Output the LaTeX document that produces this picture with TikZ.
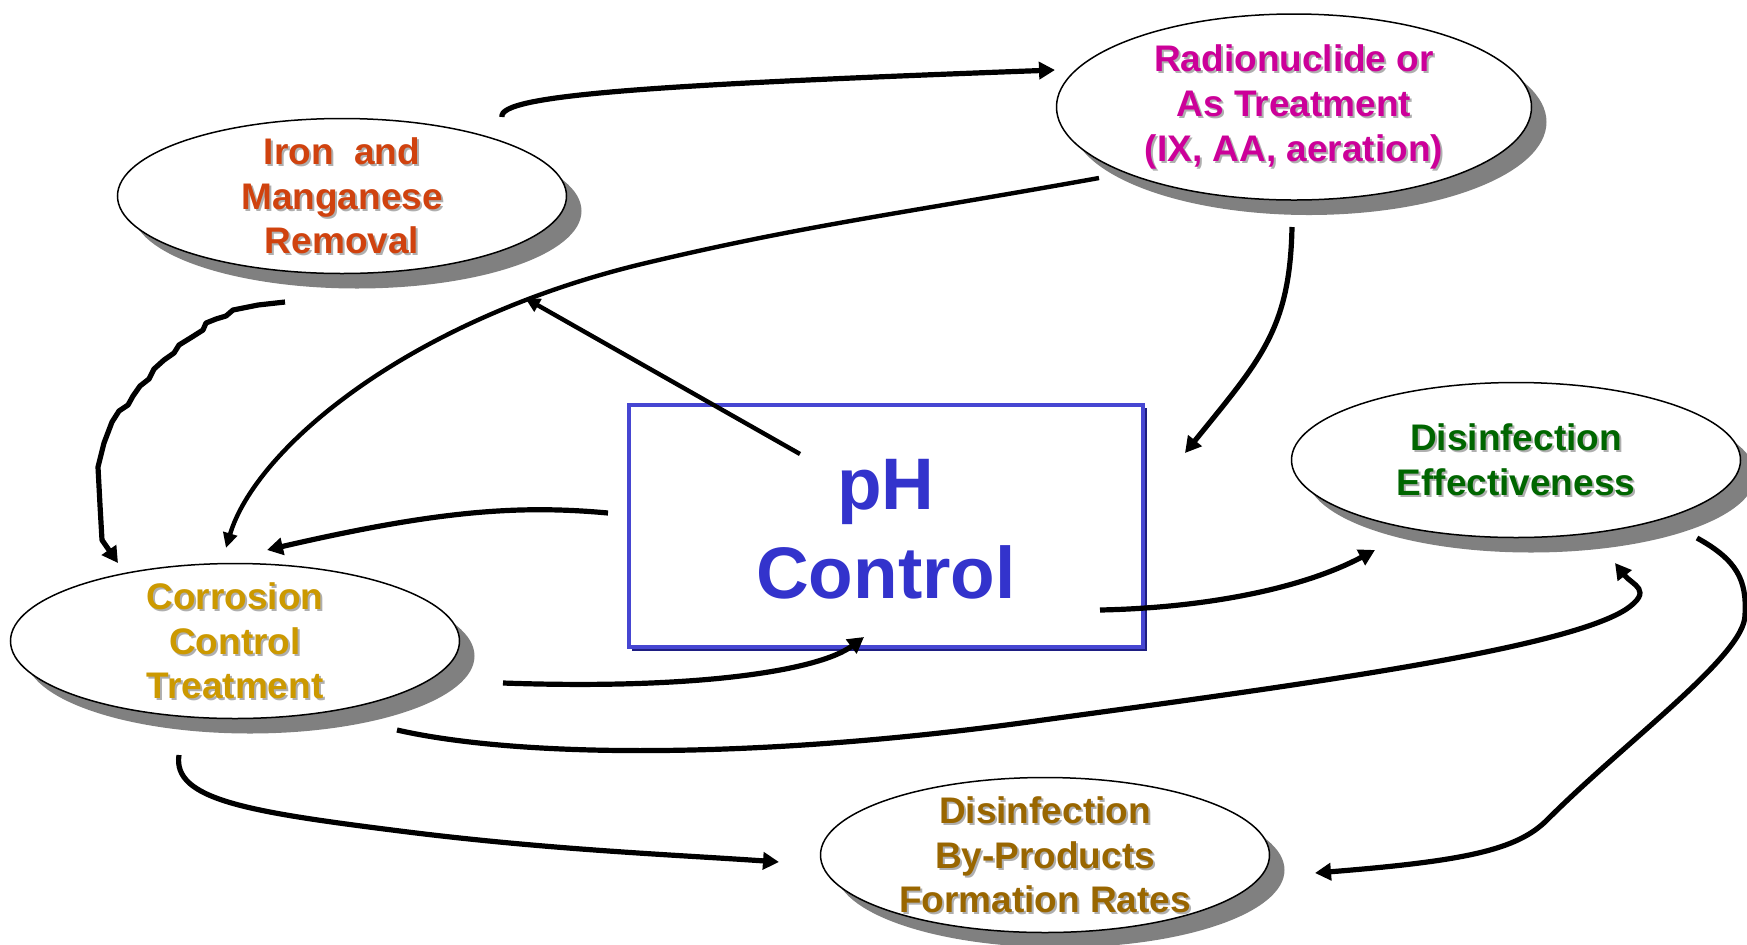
\documentclass[tikz,border=0pt]{standalone}
\usepackage{fontspec}
\setmainfont{Liberation Sans}
\usetikzlibrary{shapes.geometric,shadows,arrows.meta}

\definecolor{ironc}{RGB}{208,66,14}
\definecolor{radioc}{RGB}{204,0,153}
\definecolor{effc}{RGB}{0,102,0}
\definecolor{dbpc}{RGB}{153,102,0}
\definecolor{corrc}{RGB}{204,153,0}
\definecolor{phc}{RGB}{51,51,204}
\definecolor{phframe}{RGB}{70,70,210}
\definecolor{phdark}{RGB}{30,30,130}
\definecolor{shadowgray}{RGB}{128,128,128}
\definecolor{textshade}{RGB}{175,175,175}

% text with a faint grey copy set just below and to the right
\newcommand\shadedlabel[4]{%
  \node[#4, text=textshade] (#1-s) at ([shift={(2,2)}]#1.center) {#3};
  \node[#4, text=#2] (#1-t) at (#1.center) {#3};}

\begin{document}
\begin{tikzpicture}[x=0.5pt,y=-0.5pt,
  oval/.style={ellipse, draw=black, line width=0.75pt, fill=white, inner sep=0pt,
    minimum width=224.5pt, minimum height=77.5pt,
    drop shadow={shadow xshift=7.5pt, shadow yshift=-7.5pt, fill=shadowgray, opacity=1}},
  lbl/.style={align=center, inner sep=0pt, font={\fontsize{18.5}{22.3}\selectfont\bfseries}},
  biglbl/.style={align=center, inner sep=0pt, font={\fontsize{36.5}{44.5}\selectfont\bfseries}},
  phbox/.style={rectangle, draw=phframe, line width=1.7pt, fill=white, inner sep=0pt,
    minimum width=257pt, minimum height=121pt},
  conn/.style={line width=2.6pt, -{Triangle[length=8pt,width=8.5pt]}},
  mid/.style={line width=2.2pt, -{Triangle[length=7.5pt,width=7pt]}},
]
\fill[white] (0,0) rectangle (1747,944);
\useasboundingbox (0,0) rectangle (1747,944);

% ---- boxes ----
\node[oval] (iron) at (342,196) {};
\node[oval, minimum width=237.5pt, minimum height=93pt] (radio) at (1294,107) {};
\node[oval] (diseff) at (1516,460) {};
\node[oval] (dbp) at (1045,855) {};
\node[oval] (corr) at (235,641) {};

\draw[phdark, line width=1.4pt]
  (1143+2.5,405+3) -- (1143+2.5,647+2.5) -- (629+3,647+2.5);
\node[phbox] (ph) at (886,526) {};

\shadedlabel{iron}{ironc}{Iron\ \ and\\Manganese\\Removal}{lbl}
\shadedlabel{radio}{radioc}{Radionuclide or\\As Treatment\\(IX, AA, aeration)}{lbl}
\shadedlabel{diseff}{effc}{Disinfection\\Effectiveness}{lbl}
\shadedlabel{dbp}{dbpc}{Disinfection\\By-Products\\Formation Rates}{lbl}
\shadedlabel{corr}{corrc}{Corrosion\\Control\\Treatment}{lbl}
\node[biglbl, text=phc] (ph-t) at ([yshift=-1.5pt]ph.center) {pH\\Control};

% ---- connectors ----
% Iron and Manganese -> Radionuclide
\draw[conn] ([shift={(160,-79)}]iron.center)
  .. controls +(-4,-22) and +(-405,15) .. ([shift={(-239,-37)}]radio.center);

% Radionuclide -> Corrosion Control
\draw[mid] ([shift={(-195,71)}]radio.center)
  .. controls +(-200,36) and +(160,-38) .. ++(-453,85)
  .. controls +(-240,57) and +(29,-98) .. ([shift={(-9,-93)}]corr.center);

% Radionuclide -> pH
\draw[conn] ([shift={(-2,120)}]radio.center)
  .. controls +(-2,103) and +(75,-93) .. ([shift={(299,-73)}]ph.center);

% pH -> Iron and Manganese
\draw[mid] ([shift={(-86,-72)}]ph.center) -- ([shift={(183,102)}]iron.center);

% pH -> Corrosion Control
\draw[conn] ([shift={(-278,-13)}]ph.center)
  .. controls +(-88,-8) and +(173,-40) .. ([shift={(32,-91)}]corr.center);

% Iron and Manganese -> Corrosion Control (hand-drawn)
\draw[conn, line join=round] ([shift={(-57,106)}]iron.center)
  -- ++(-27,3) -- ++(-25,5) -- ++(-7,6) -- ++(-10,3) -- ++(-10,4)
  -- ++(-3,7) -- ++(-11,7) -- ++(-13,8) -- ++(-5,8) -- ++(-10,7)
  -- ++(-10,9) -- ++(-5,10) -- ++(-9,7) -- ++(-7,10) -- ++(-5,9)
  -- ++(-9,6) -- ++(-7,11) -- ++(-8,21) -- ++(-6,24) -- ++(2,38)
  -- ++(2,35) -- ([shift={(-117,-78)}]corr.center);

% Corrosion Control -> pH
\draw[conn] ([shift={(268,42)}]corr.center)
  .. controls +(197,7) and +(-44,33) .. ([shift={(-22,111)}]ph.center);

% pH -> Disinfection Effectiveness
\draw[conn] ([shift={(214,84)}]ph.center)
  .. controls +(100,-2) and +(-75,40) .. ([shift={(-141,90)}]diseff.center);

% Corrosion Control -> Disinfection Effectiveness
\draw[conn] ([shift={(162,89)}]corr.center)
  .. controls +(123,28) and +(-283,40) .. ++(646,-10)
  .. controls +(257,-35) and +(-65,40) .. ++(582,-110)
  .. controls +(30,-20) and +(17,22) .. ([shift={(99,103)}]diseff.center);

% Disinfection Effectiveness -> By-Products
\draw[conn] ([shift={(181,78)}]diseff.center)
  .. controls +(40,22) and +(2,-35) .. ++(48,77)
  .. controls +(0,40) and +(80,-80) .. ++(-198,205)
  .. controls +(-30,30) and +(150,-12) .. ([shift={(270,18)}]dbp.center);

% Corrosion Control -> By-Products
\draw[conn] ([shift={(-56,114)}]corr.center)
  .. controls +(-7,45) and +(-150,-19) .. ++(221,76)
  .. controls +(150,19) and +(-99,-7) .. ([shift={(-266,7)}]dbp.center);
\end{tikzpicture}
\end{document}
